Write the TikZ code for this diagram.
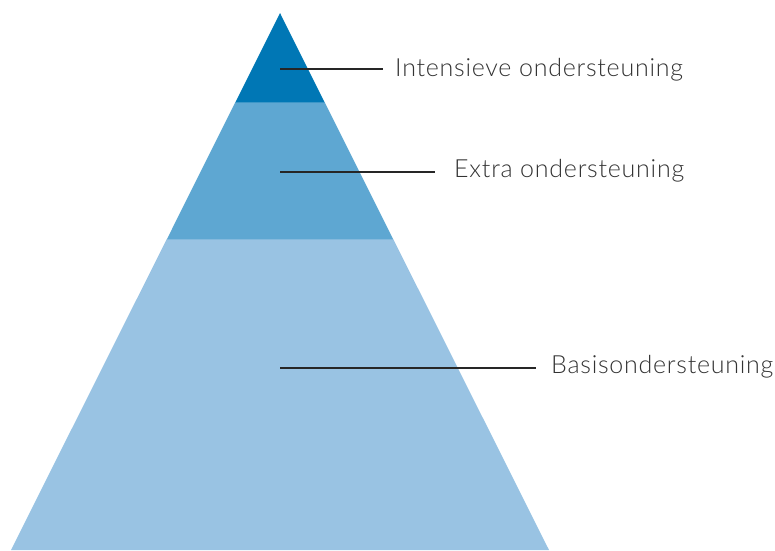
\documentclass[tikz,border=0pt]{standalone}
\usepackage{fontspec}
\setmainfont{Lato}[UprightFont=* Light,LetterSpace=3]
\usepackage{tikz}

\definecolor{topblue}{HTML}{0077B5}
\definecolor{midblue}{HTML}{5EA7D2}
\definecolor{lowblue}{HTML}{99C3E3}
\definecolor{labelgray}{HTML}{333333}

\begin{document}
\begin{tikzpicture}[x=1pt,y=-1pt,
  every node/.style={anchor=base west,inner sep=0pt,text=labelgray,font=\fontsize{25}{30}\selectfont}]
  \useasboundingbox (0,0) rectangle (775,550);

  % pyramid bands
  \fill[lowblue] (11,550) -- (166.8,239) -- (393.2,239) -- (549,550) -- cycle;
  \fill[midblue] (166.8,239.4) -- (235.4,102) -- (324.6,102) -- (393.2,239.4) -- cycle;
  \fill[topblue] (235.4,102.4) -- (280,13) -- (324.6,102.4) -- cycle;

  \coordinate (c1) at (280,69);
  \coordinate (c2) at (280,171.5);
  \coordinate (c3) at (280,368);

  \node (l1) at (395,76)    {Intensieve ondersteuning};
  \node (l2) at (454,177.3) {Extra ondersteuning};
  \node (l3) at (551,373.3) {Basisondersteuning};

  \foreach \from/\to/\gap in {c1/l1/12.5,c2/l2/19,c3/l3/15.5}
    \draw[line width=2pt,black!85,shorten >=\gap pt] (\from) -- (\from -| \to.west);

\end{tikzpicture}
\end{document}
